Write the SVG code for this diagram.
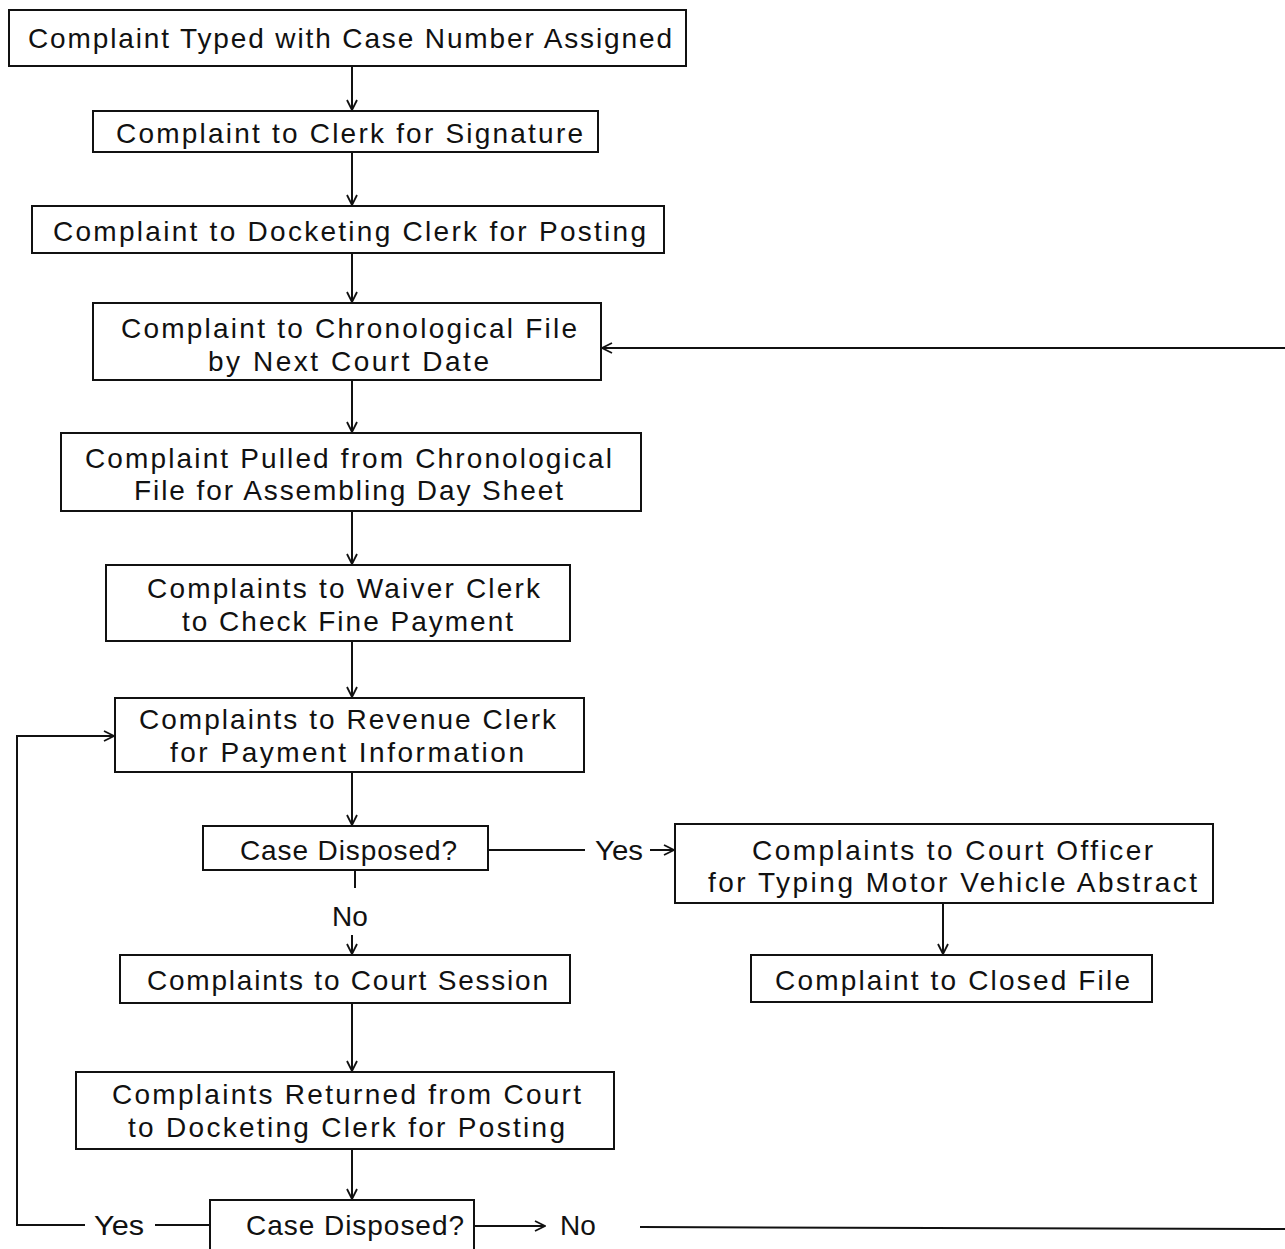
<svg xmlns="http://www.w3.org/2000/svg" width="1285" height="1249" viewBox="0 0 1285 1249">
<style>
.box{fill:none;stroke:#111;stroke-width:2}
.t{font-family:"Liberation Sans",Arial,sans-serif;font-size:28px;fill:#111}
.c{fill:none;stroke:#111;stroke-width:2}
</style>
<defs>
<marker id="ah" viewBox="0 0 12 12" refX="11" refY="6" markerWidth="12" markerHeight="12" markerUnits="userSpaceOnUse" orient="auto">
<path d="M1,1 L11,6 L1,11" fill="none" stroke="#111" stroke-width="1.8"/>
</marker>
</defs>
<rect width="1285" height="1249" fill="#fff"/>
<g id="connectors">
<line class="c" x1="352" y1="66" x2="352" y2="110" marker-end="url(#ah)"/>
<line class="c" x1="352" y1="152" x2="352" y2="205" marker-end="url(#ah)"/>
<line class="c" x1="352" y1="253" x2="352" y2="302" marker-end="url(#ah)"/>
<line class="c" x1="352" y1="380" x2="352" y2="432" marker-end="url(#ah)"/>
<line class="c" x1="352" y1="511" x2="352" y2="564" marker-end="url(#ah)"/>
<line class="c" x1="352" y1="641" x2="352" y2="697" marker-end="url(#ah)"/>
<line class="c" x1="352" y1="772" x2="352" y2="825" marker-end="url(#ah)"/>
<line class="c" x1="355" y1="870" x2="355" y2="888"/>
<line class="c" x1="352" y1="935" x2="352" y2="954" marker-end="url(#ah)"/>
<line class="c" x1="488" y1="850" x2="585" y2="850"/>
<line class="c" x1="650" y1="850" x2="674" y2="850" marker-end="url(#ah)"/>
<line class="c" x1="943" y1="903" x2="943" y2="954" marker-end="url(#ah)"/>
<line class="c" x1="352" y1="1003" x2="352" y2="1071" marker-end="url(#ah)"/>
<line class="c" x1="352" y1="1149" x2="352" y2="1199" marker-end="url(#ah)"/>
<line class="c" x1="210" y1="1225" x2="155" y2="1225"/>
<polyline class="c" points="85,1225 17,1225 17,736 114,736" marker-end="url(#ah)"/>
<line class="c" x1="474" y1="1226" x2="545" y2="1226" marker-end="url(#ah)"/>
<line class="c" x1="640" y1="1227" x2="1285" y2="1229"/>
<line class="c" x1="1285" y1="348" x2="602" y2="348" marker-end="url(#ah)"/>
<text class="t" x="595" y="860" textLength="48" lengthAdjust="spacingAndGlyphs">Yes</text>
<text class="t" x="332" y="926">No</text>
<text class="t" x="94" y="1235" textLength="50" lengthAdjust="spacingAndGlyphs">Yes</text>
<text class="t" x="560" y="1235">No</text>
</g>
<g id="n1"><rect class="box" x="9" y="10" width="677" height="56"/><text class="t" x="28" y="48" textLength="644" lengthAdjust="spacing">Complaint Typed with Case Number Assigned</text></g>
<g id="n2"><rect class="box" x="93" y="111" width="505" height="41"/><text class="t" x="116" y="143" textLength="467" lengthAdjust="spacing">Complaint to Clerk for Signature</text></g>
<g id="n3"><rect class="box" x="32" y="206" width="632" height="47"/><text class="t" x="53" y="241" textLength="593" lengthAdjust="spacing">Complaint to Docketing Clerk for Posting</text></g>
<g id="n4"><rect class="box" x="93" y="303" width="508" height="77"/><text class="t" x="121" y="338" textLength="456" lengthAdjust="spacing">Complaint to Chronological File</text><text class="t" x="208" y="371" textLength="281" lengthAdjust="spacing">by Next Court Date</text></g>
<g id="n5"><rect class="box" x="61" y="433" width="580" height="78"/><text class="t" x="85" y="468" textLength="527" lengthAdjust="spacing">Complaint Pulled from Chronological</text><text class="t" x="134" y="500" textLength="429" lengthAdjust="spacing">File for Assembling Day Sheet</text></g>
<g id="n6"><rect class="box" x="106" y="565" width="464" height="76"/><text class="t" x="147" y="598" textLength="393" lengthAdjust="spacing">Complaints to Waiver Clerk</text><text class="t" x="182" y="631" textLength="331" lengthAdjust="spacing">to Check Fine Payment</text></g>
<g id="n7"><rect class="box" x="115" y="698" width="469" height="74"/><text class="t" x="139" y="729" textLength="417" lengthAdjust="spacing">Complaints to Revenue Clerk</text><text class="t" x="170" y="762" textLength="354" lengthAdjust="spacing">for Payment Information</text></g>
<g id="n8"><rect class="box" x="203" y="826" width="285" height="44"/><text class="t" x="240" y="860" textLength="217" lengthAdjust="spacing">Case Disposed?</text></g>
<g id="n9"><rect class="box" x="675" y="824" width="538" height="79"/><text class="t" x="752" y="860" textLength="401" lengthAdjust="spacing">Complaints to Court Officer</text><text class="t" x="708" y="892" textLength="489" lengthAdjust="spacing">for Typing Motor Vehicle Abstract</text></g>
<g id="n10"><rect class="box" x="751" y="955" width="401" height="47"/><text class="t" x="775" y="990" textLength="355" lengthAdjust="spacing">Complaint to Closed File</text></g>
<g id="n11"><rect class="box" x="120" y="955" width="450" height="48"/><text class="t" x="147" y="990" textLength="401" lengthAdjust="spacing">Complaints to Court Session</text></g>
<g id="n12"><rect class="box" x="76" y="1072" width="538" height="77"/><text class="t" x="112" y="1104" textLength="469" lengthAdjust="spacing">Complaints Returned from Court</text><text class="t" x="128" y="1137" textLength="437" lengthAdjust="spacing">to Docketing Clerk for Posting</text></g>
<g id="n13"><rect class="box" x="210" y="1200" width="264" height="60"/><text class="t" x="246" y="1235" textLength="218" lengthAdjust="spacing">Case Disposed?</text></g>
</svg>
